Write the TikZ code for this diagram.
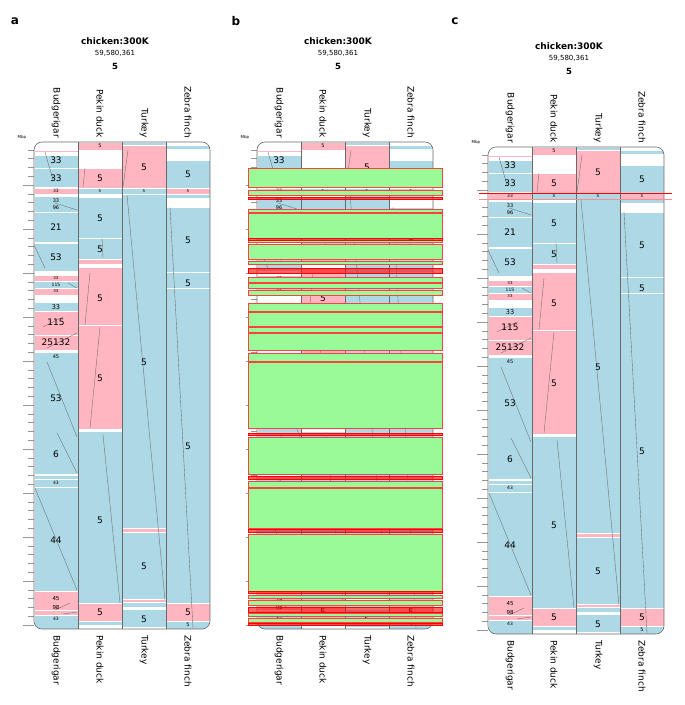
\documentclass[tikz,border=0pt]{standalone}
\usepackage{fontspec}
\setmainfont{DejaVu Sans}
\definecolor{lblue}{RGB}{173,216,230}
\definecolor{lpink}{RGB}{255,182,193}
\definecolor{lgreen}{RGB}{152,251,152}
\definecolor{framegray}{RGB}{105,105,105}
\begin{document}
\begin{tikzpicture}[x=1pt,y=-1pt,
  txt/.style={inner sep=0pt},
  syn/.style={draw=framegray,line width=0.35pt},
  chrbox/.style={draw=framegray,line width=0.6pt},
  hitbox/.style={draw=red!75,fill=lgreen,line width=0.6pt},
  hitline/.style={draw=red,fill=red,fill opacity=0.6,line width=0.5pt}]
\useasboundingbox (0,0) rectangle (685,705);
\pgfmathsetmacro{\cw}{44}
\pgfmathsetmacro{\bx}{34}
\pgfmathsetmacro{\btop}{142}
\pgfmathsetmacro{\bbot}{629}
\node[txt,font=\bfseries\fontsize{12}{12}\selectfont] (pa) at (15,21) {a};
\node[txt,font=\bfseries\fontsize{12}{12}\selectfont] (pb) at (236,21) {b};
\node[txt,font=\bfseries\fontsize{12}{12}\selectfont] (pc) at (455,21) {c};
\foreach \ox/\oy/\p in {0/0/a,223/0/b,454/5/c}{
\begin{scope}[shift={(\ox,\oy)}]
\node[txt,font=\bfseries\fontsize{9}{9}\selectfont] (\p-ttl) at (115,41) {chicken:300K};
\node[txt,font=\fontsize{7}{7}\selectfont] (\p-len) at (115,53) {59,580,361};
\node[txt,font=\bfseries\fontsize{8.5}{8.5}\selectfont] (\p-chr) at (115,66) {5};
\node[txt,font=\fontsize{4}{4}\selectfont] (\p-mbp) at (22,137) {Mbp};
\foreach \n [count=\k from 0] in {Budgerigar,Pekin duck,Turkey,Zebra finch}{
  \node[txt,rotate=-90,anchor=east,font=\fontsize{9}{9}\selectfont] (\p-top\k) at (\bx+\cw*\k+22,138) {\n};
  \node[txt,rotate=-90,anchor=west,font=\fontsize{9}{9}\selectfont] (\p-bot\k) at (\bx+\cw*\k+22,635) {\n};
}
\foreach \i in {0,...,54}{
  \pgfmathsetmacro{\ty}{149.8+8.8*\i}
  \pgfmathsetmacro{\tl}{mod(\i,5)==4 ? 23 : 28}
  \draw[framegray!70,line width=0.4pt] (\tl,\ty)--(\bx,\ty);
}
\begin{scope}
\clip[rounded corners=8pt] (\bx,\btop) rectangle (\bx+4*\cw,\bbot);
\fill[white] (\bx,\btop) rectangle (\bx+4*\cw,\bbot);
\foreach \c/\t/\b/\f in {0/150/152.5/lpink,0/155/168/lblue,0/168/187.5/lblue,0/188/194/lpink,0/196/212/lblue,0/212/242/lblue,0/243.5/271.5/lblue,0/275/281/lpink,0/281.5/288/lblue,0/288.5/295/lpink,0/302/311/lblue,0/311/335/lpink,0/335/350/lpink,0/352/474/lblue,0/475/479/lblue,0/479.5/487/lblue,0/487.5/591/lblue,0/591/610/lpink,0/610.5/615/lpink,0/615/629/lblue,
1/142/150/lpink,1/168/188/lpink,1/188/194/lblue,1/197/238/lblue,1/238/259/lblue,1/259.5/264/lpink,1/267/325/lpink,1/325/429/lpink,1/431/603/lblue,1/603/621/lpink,1/621.5/625/lblue,
2/142/145/lblue,2/145/188/lpink,2/188/194/lblue,2/194/528/lblue,2/528/532/lpink,2/532/599.5/lblue,2/599.5/602/lpink,2/602/607/lblue,2/609.5/627/lblue,
3/145/149/lblue,3/160/188/lblue,3/188/194/lpink,3/194/198/lblue,3/207/272/lblue,3/272/288/lblue,3/288/603/lblue,3/603/621.5/lpink,3/621.5/629/lblue}
  \fill[\f,draw=white,line width=0.3pt] (\bx+\cw*\c,\t) rectangle (\bx+\cw*\c+\cw,\b);
\foreach \xa/\ya/\xb/\yb in {45/152/53/180,55/203/77/210,33/243/45/268,68/283/77/288,43/327/63/317,47/348/77/333,47/362/77/437,57/433/77/473,35/488/77/590,55/610/70/603,63/614/77/612,85/168/83/187,102/238/103/258,90/273/85/325,100/327/90/428,103/435/120/603,128/150/123/187,127/195/165/600,170/207/193/628}
  \draw[syn] (\xa,\ya)--(\xb,\yb);
\foreach \c/\y/\s/\l [count=\i] in {0/160/9/33,0/178/9/33,0/227/9/21,0/257/9/53,0/322/9/115,0/342/9/25132,0/398/9/53,0/454/9/6,0/540/9/44,0/307/6.5/33,0/191/4.5/33,0/201/5/33,0/208/5/96,0/278/4/33,0/285/4.5/115,0/291/4/33,0/357/5/45,0/483/4.5/43,0/599/5.5/45,0/607/5.5/98,0/619/4.5/43,
1/146/5/5,1/191/4/5,2/191/4/5,3/191/4/5,3/625/5/5,1/178/9/5,1/218/9/5,1/249/9/5,1/298/9/5,1/378/9/5,1/520/9/5,1/612/9/5,
2/167/9/5,2/362/9/5,2/566/9/5,2/619/9/5,3/174/9/5,3/240/9/5,3/283/9/5,3/446/9/5,3/612/9/5}
  \node[txt,font=\fontsize{\s}{\s}\selectfont] (\p-l\i) at (\bx+\cw*\c+22,\y) {\l};
\end{scope}
\draw[chrbox,rounded corners=8pt] (\bx,\btop) rectangle (\bx+4*\cw,\bbot);
\foreach \k in {1,2,3}
  \draw[chrbox] (\bx+\cw*\k,\btop)--(\bx+\cw*\k,\bbot);
\end{scope}
}
\foreach \t/\b in {168/187.5,190/195,209.5/212,213/238,240/242.5,244.5/259.5,261/264,277/282,283.5/288.5,290/295.5,303/311.5,312.5/326,327/332,333/350,353/361.5,362.5/428.5,437/474,481/487,488.5/528,534/591,595/598,600/605,613.5/616,618/622}
  \draw[hitbox] (248,\t) rectangle (442,\b);
\foreach \t/\b in {197.5/199.5,238/240,268/273,433/435.5,476/479,529/532.5,591.5/593.5,607/612,623/625}
  \draw[hitline] (248,\t) rectangle (442,\b);
\draw[red,line width=1.2pt] (479,193.5)--(672,193.5);
\draw[red!45,line width=0.4pt] (479,199)--(672,199);
\end{tikzpicture}
\end{document}
